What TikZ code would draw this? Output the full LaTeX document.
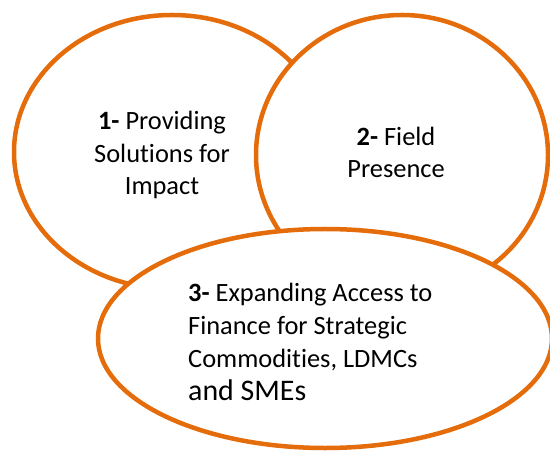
\documentclass[tikz,border=0pt]{standalone}
\usepackage{fontspec}
\setmainfont{Carlito}[Ligatures=NoCommon]
\definecolor{ringorange}{HTML}{E46C0A}
\tikzset{
  ring/.style={draw=ringorange, line width=4.5bp, fill=white},
  lbl/.style={inner sep=0pt, font=\fontsize{26.5}{33}\selectfont}
}
\begin{document}
\begin{tikzpicture}[x=1bp,y=-1bp]
  \useasboundingbox (0,0) rectangle (550,451);
  % the three rings, later ones on top
  \draw[ring] (172,152) ellipse [x radius=158bp, y radius=137bp];
  \draw[ring] (402,155) ellipse [x radius=146bp, y radius=140bp];
  \draw[ring] (325,338.5) ellipse [x radius=227bp, y radius=109.5bp];
  % labels (base = baseline of last line)
  \node[lbl, align=center, anchor=base] (impact) at (162,195)
    {\textbf{1-} Providing\\Solutions for\\Impact};
  \node[lbl, align=center, anchor=base] (field) at (396,178)
    {\textbf{2-} Field\\Presence};
  \node[lbl, align=left, anchor=base west] (finance) at (188,400)
    {\textbf{3-} Expanding Access to\\Finance for Strategic\\Commodities, LDMCs\\{\fontsize{30}{37}\selectfont and SMEs}};
\end{tikzpicture}
\end{document}
